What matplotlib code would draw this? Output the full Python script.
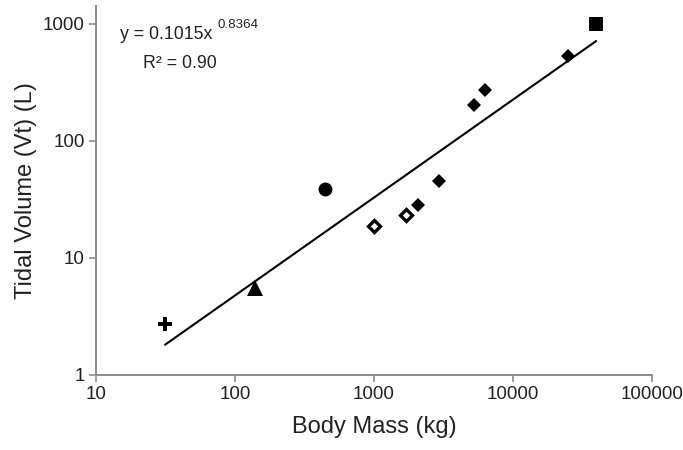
import numpy as np
import matplotlib
matplotlib.use("Agg")
import matplotlib.pyplot as plt

plt.rcParams['font.family'] = ['Liberation Sans', 'DejaVu Sans']

# body mass (kg) and tidal volume (L), grouped by marker
plus_mass, plus_vt = [31.5], [2.72]
tri_mass, tri_vt = [139], [5.5]
circ_mass, circ_vt = [448], [38.5]
open_mass, open_vt = [1009, 1694], [18.9, 23.5]
dia_mass, dia_vt = [2089, 2958, 5224, 6339, 25060], [28.6, 45.3, 202, 273, 528]
sq_mass, sq_vt = [39700], [1000]

# power law fit y = a * x^b
fit_a = 0.1015
fit_b = 0.8364
r2 = 0.90

x_ticks = [10, 100, 1000, 10000, 100000]
y_ticks = [1, 10, 100, 1000]

spine_col = '#8c8c8c'
text_col = '#222222'

fig = plt.figure(figsize=(6.83, 4.5), dpi=100)
ax = fig.add_axes([0.1406, 0.1667, 0.8136, 0.8200])

all_mass = plus_mass + tri_mass + circ_mass + open_mass + dia_mass + sq_mass
xs = np.array([min(all_mass), max(all_mass)])
ax.plot(xs, fit_a * xs ** fit_b, color='black', lw=1.5, zorder=2)

ax.plot(plus_mass, plus_vt, 'P', color='black', ms=10, mew=0, zorder=3)
ax.plot(tri_mass, tri_vt, '^', color='black', ms=11, mew=0, zorder=3)
ax.plot(circ_mass, circ_vt, 'o', color='black', ms=10, mew=0, zorder=3)
ax.plot(open_mass, open_vt, 'D', mfc='white', mec='black', ms=5.8, mew=2.4, zorder=3)
ax.plot(dia_mass, dia_vt, 'D', color='black', ms=7.6, mew=0, zorder=3)
ax.plot(sq_mass, sq_vt, 's', color='black', ms=10, mew=0, zorder=3)

ax.set_xscale('log')
ax.set_yscale('log')
ax.set_xlim(10, 100000)
ax.set_ylim(1, 1424)
ax.set_xticks(x_ticks)
ax.set_xticklabels([str(t) for t in x_ticks])
ax.set_yticks(y_ticks)
ax.set_yticklabels([str(t) for t in y_ticks])
ax.minorticks_off()

for s in ['top', 'right']:
    ax.spines[s].set_visible(False)
for s in ['left', 'bottom']:
    ax.spines[s].set_color(spine_col)
    ax.spines[s].set_linewidth(1.4)
ax.tick_params(length=5, width=1.2, color=spine_col, labelsize=13.5,
               labelcolor=text_col, pad=3)

ax.set_xlabel('Body Mass (kg)', fontsize=17, color=text_col, labelpad=9)
ax.set_ylabel('Tidal Volume (Vt) (L)', fontsize=17, color=text_col, labelpad=4)

ax.text(0.044, 0.91, 'y = %.4fx' % fit_a, transform=ax.transAxes,
        fontsize=12.8, color=text_col, va='baseline', ha='left')
ax.text(0.219, 0.941, '%.4f' % fit_b, transform=ax.transAxes,
        fontsize=9.6, color=text_col, va='baseline', ha='left')
ax.text(0.085, 0.831, 'R² = %.2f' % r2, transform=ax.transAxes,
        fontsize=12.8, color=text_col, va='baseline', ha='left')

fig.savefig('out.png', dpi=100)
